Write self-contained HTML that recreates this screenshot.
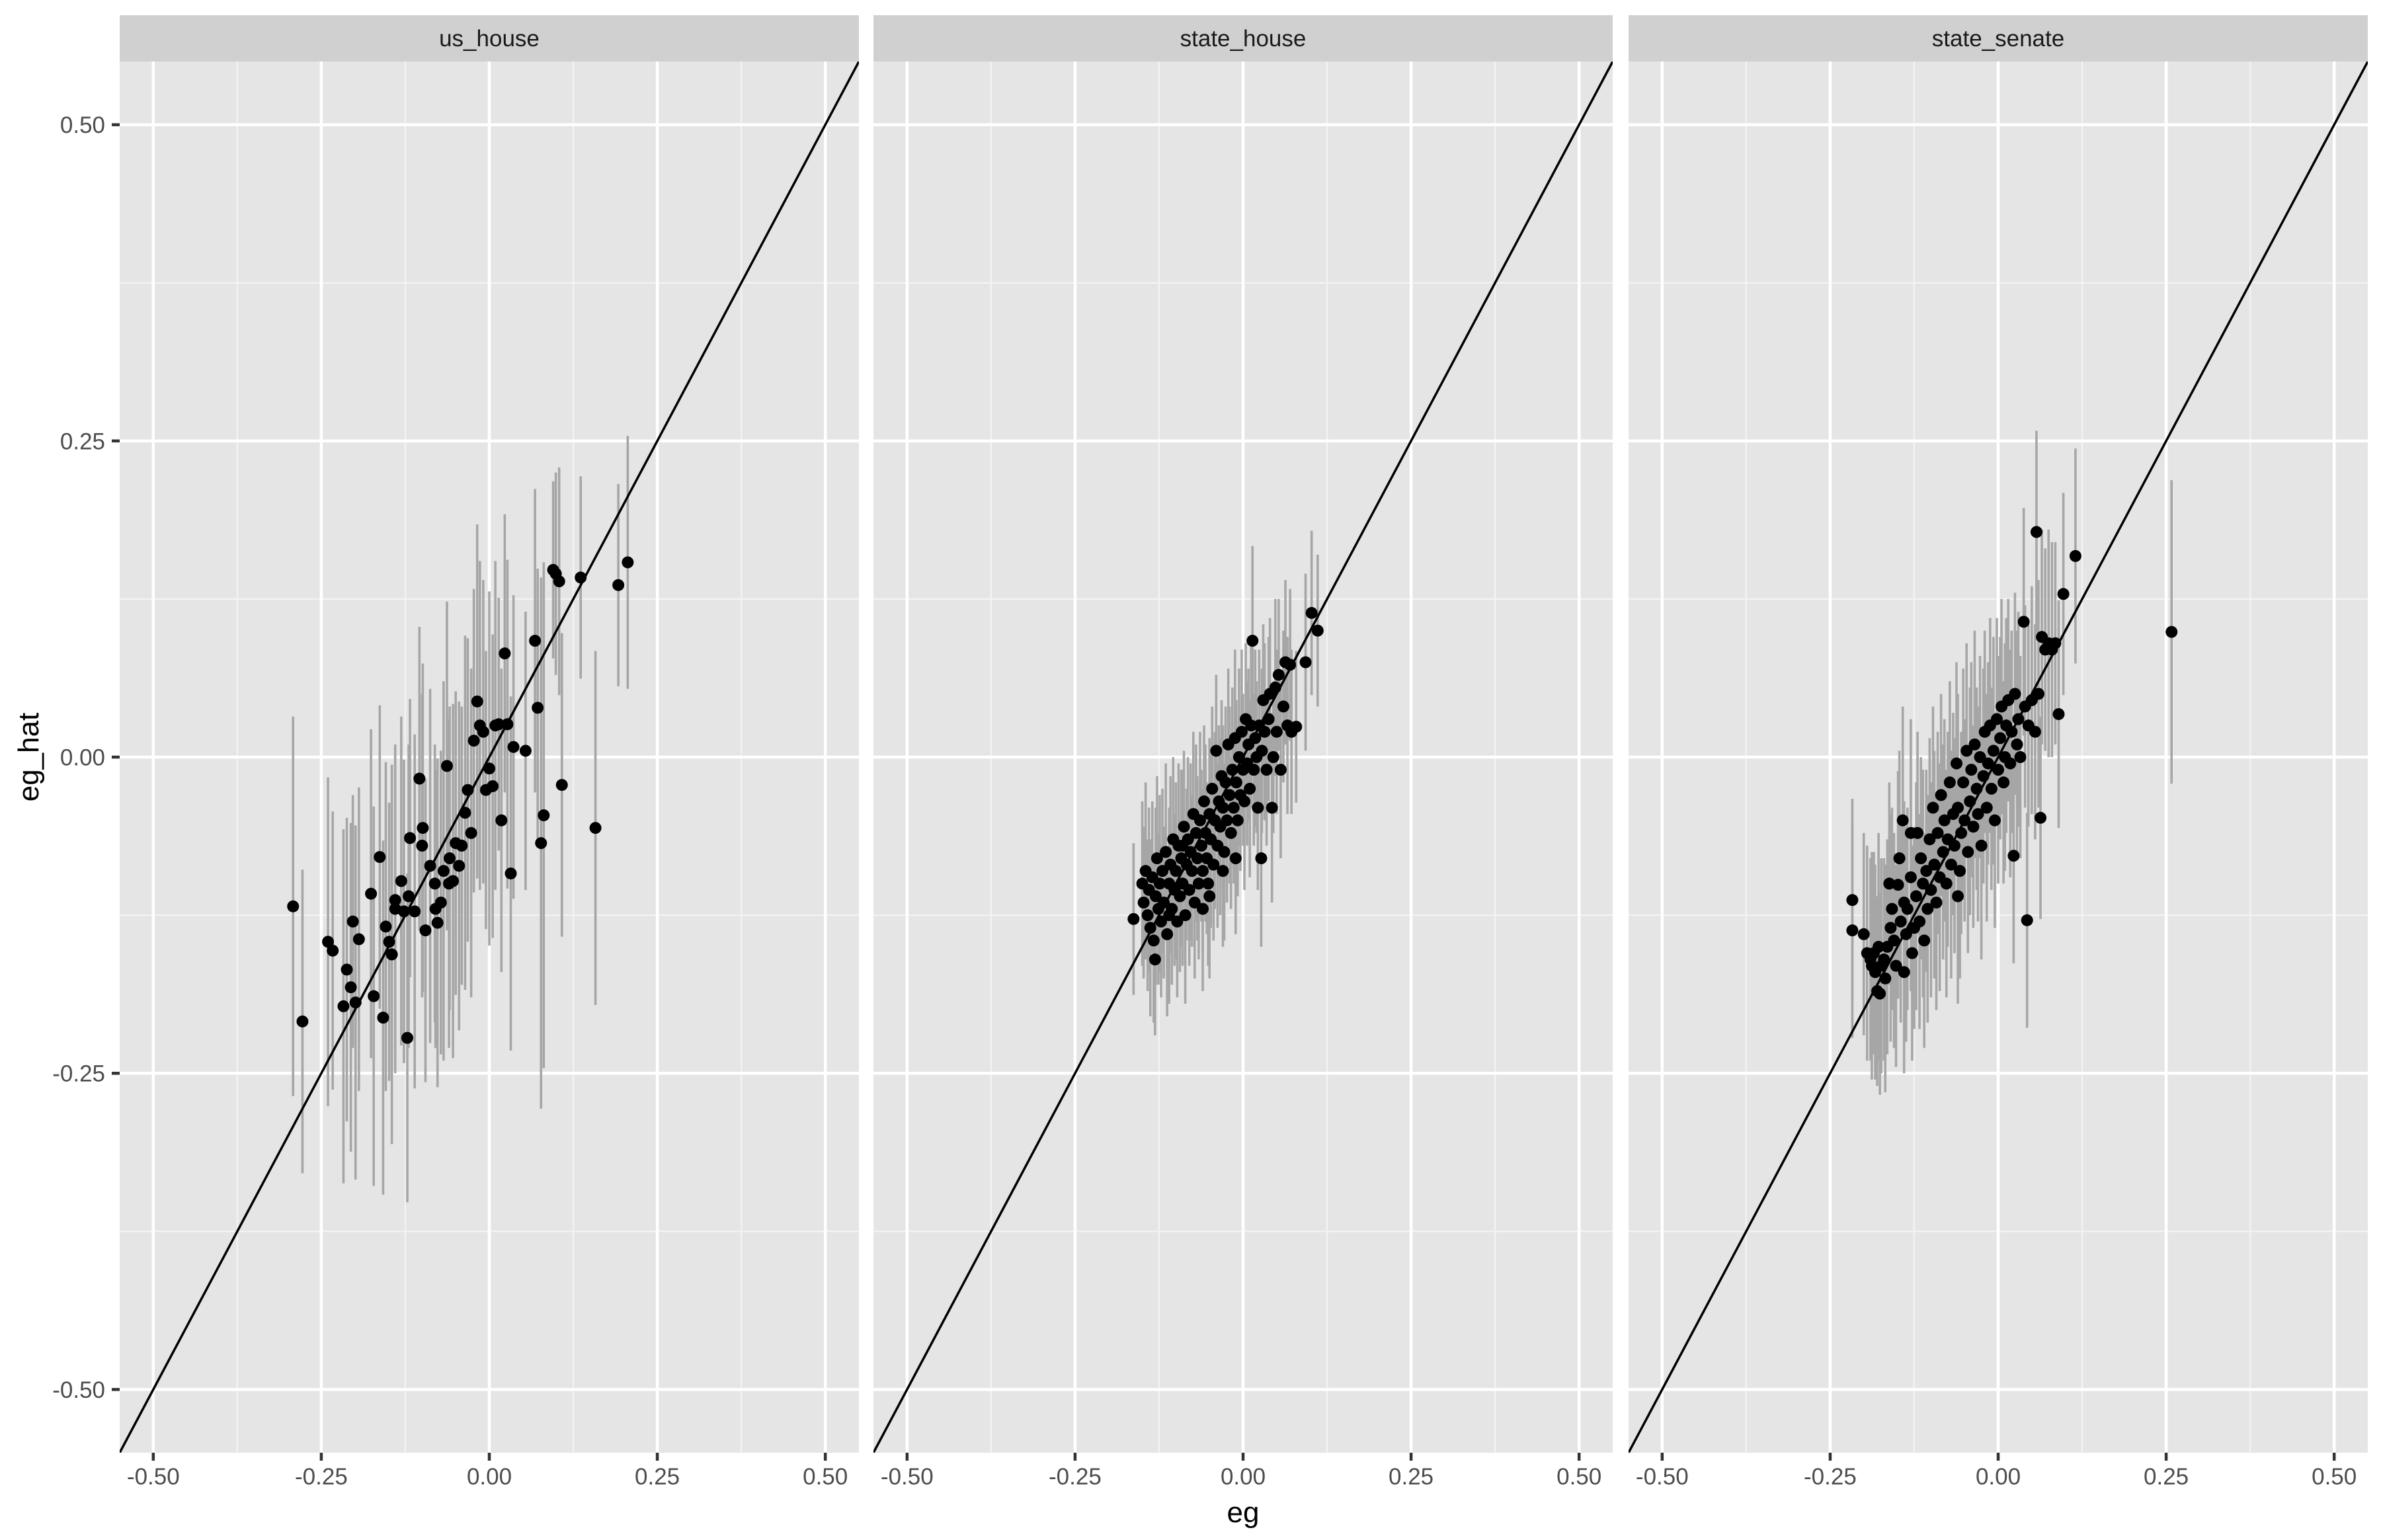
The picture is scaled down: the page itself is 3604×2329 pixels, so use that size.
<!DOCTYPE html>
<html><head><meta charset="utf-8"><style>
html,body{margin:0;padding:0;background:#fff;}
svg{display:block;font-family:"Liberation Sans",Arial,sans-serif;}
</style></head><body>
<svg id="chart" width="3604" height="2329" viewBox="0 0 3604 2329" xmlns="http://www.w3.org/2000/svg">
<rect x="0" y="0" width="3604" height="2329" fill="#ffffff"/>
<text x="1880" y="2302" font-size="44" fill="#000" text-anchor="middle">eg</text>
<text transform="translate(58,1145) rotate(-90)" font-size="44" fill="#000" text-anchor="middle">eg_hat</text>
</svg>
<script>
const panelNames = ["us_house", "state_house", "state_senate"];
const xTicks = [-0.5, -0.25, 0, 0.25, 0.5];
const xTickLabels = ["-0.50", "-0.25", "0.00", "0.25", "0.50"];
const yTicks = [0.5, 0.25, 0, -0.25, -0.5];
const yTickLabels = ["0.50", "0.25", "0.00", "-0.25", "-0.50"];
const minorTicks = [-0.375, -0.125, 0.125, 0.375];

const usX = [-0.292,-0.278,-0.240,-0.233,-0.217,-0.212,-0.206,-0.203,-0.199,-0.194,-0.176,-0.172,-0.163,-0.158,-0.154,-0.149,-0.145,-0.140,-0.131,-0.127,-0.122,-0.118,-0.111,-0.104,-0.099,-0.095,-0.088,-0.081,-0.077,-0.072,-0.068,-0.063,-0.059,-0.054,-0.050,-0.045,-0.041,-0.036,-0.032,-0.027,-0.023,-0.018,-0.014,-0.009,-0.005,0.000,0.005,0.009,0.014,0.018,0.023,0.027,0.032,0.036,0.054,0.068,0.072,0.077,0.081,0.095,0.099,0.104,0.108,0.136,0.158,0.192,0.206,-0.12,-0.14,-0.10,-0.06,-0.08];
const usY = [-0.118,-0.209,-0.146,-0.153,-0.197,-0.168,-0.182,-0.130,-0.194,-0.144,-0.108,-0.189,-0.079,-0.206,-0.134,-0.146,-0.156,-0.113,-0.098,-0.122,-0.222,-0.064,-0.122,-0.017,-0.056,-0.137,-0.086,-0.100,-0.131,-0.115,-0.090,-0.007,-0.080,-0.098,-0.068,-0.086,-0.070,-0.044,-0.026,-0.060,0.013,0.044,0.025,0.020,-0.026,-0.009,-0.023,0.025,0.026,-0.050,0.082,0.026,-0.092,0.008,0.005,0.092,0.039,-0.068,-0.046,0.148,0.145,0.139,-0.022,0.142,-0.056,0.136,0.154,-0.11,-0.12,-0.07,-0.10,-0.12];
const usSE = [0.15,0.12,0.13,0.11,0.14,0.12,0.13,0.10,0.14,0.12,0.13,0.15,0.12,0.14,0.13,0.11,0.15,0.12,0.13,0.12,0.13,0.11,0.14,0.12,0.13,0.12,0.14,0.11,0.13,0.12,0.15,0.13,0.12,0.14,0.12,0.13,0.11,0.14,0.12,0.13,0.12,0.14,0.13,0.12,0.11,0.14,0.12,0.13,0.10,0.12,0.11,0.13,0.14,0.12,0.11,0.12,0.11,0.21,0.20,0.07,0.08,0.09,0.12,0.08,0.14,0.08,0.10,0.12,0.13,0.12,0.13,0.11];

const shX = [-0.163,-0.15,-0.148,-0.145,-0.142,-0.14,-0.138,-0.135,-0.133,-0.131,-0.13,-0.128,-0.126,-0.124,-0.122,-0.12,-0.118,-0.115,-0.113,-0.11,-0.108,-0.106,-0.104,-0.102,-0.1,-0.098,-0.096,-0.094,-0.092,-0.09,-0.088,-0.086,-0.084,-0.082,-0.08,-0.078,-0.076,-0.074,-0.072,-0.07,-0.068,-0.066,-0.064,-0.062,-0.06,-0.058,-0.056,-0.054,-0.052,-0.05,-0.048,-0.046,-0.044,-0.042,-0.04,-0.038,-0.036,-0.034,-0.032,-0.03,-0.028,-0.026,-0.024,-0.022,-0.02,-0.018,-0.016,-0.014,-0.012,-0.01,-0.008,-0.006,-0.004,-0.002,0.0,0.002,0.004,0.006,0.008,0.01,0.012,0.014,0.016,0.018,0.02,0.022,0.024,0.027,0.028,0.03,0.032,0.035,0.038,0.04,0.043,0.045,0.048,0.05,0.053,0.056,0.06,0.063,0.066,0.07,0.072,0.079,0.093,0.102,0.111,-0.011,-0.06,-0.09,-0.11,-0.03,-0.05];
const shY = [-0.128,-0.10,-0.115,-0.09,-0.125,-0.105,-0.135,-0.095,-0.145,-0.16,-0.11,-0.08,-0.12,-0.1,-0.13,-0.09,-0.115,-0.075,-0.14,-0.1,-0.085,-0.12,-0.065,-0.105,-0.09,-0.13,-0.07,-0.11,-0.08,-0.1,-0.055,-0.125,-0.085,-0.065,-0.105,-0.075,-0.09,-0.045,-0.115,-0.06,-0.08,-0.1,-0.05,-0.07,-0.09,-0.035,-0.06,-0.08,-0.1,-0.045,-0.065,-0.025,-0.085,-0.05,0.005,-0.07,-0.035,-0.055,-0.015,-0.04,-0.075,-0.02,-0.05,0.01,-0.03,-0.06,-0.01,-0.04,0.015,-0.02,-0.05,0.0,-0.03,0.02,-0.01,-0.035,0.03,-0.005,0.01,-0.025,0.025,0.092,-0.01,0.015,0.0,-0.04,0.025,-0.08,0.005,0.045,0.02,-0.01,0.03,0.05,-0.04,0.0,0.055,0.02,0.065,-0.01,0.04,0.075,0.025,0.073,0.02,0.024,0.075,0.114,0.1,-0.08,-0.12,-0.07,-0.125,-0.09,-0.11];
const shSE = [0.06,0.065,0.06,0.07,0.06,0.065,0.07,0.06,0.065,0.06,0.07,0.065,0.06,0.07,0.06,0.065,0.06,0.07,0.065,0.06,0.07,0.06,0.065,0.06,0.07,0.06,0.065,0.06,0.07,0.065,0.06,0.07,0.06,0.065,0.06,0.07,0.06,0.065,0.06,0.07,0.065,0.06,0.07,0.06,0.065,0.06,0.07,0.06,0.065,0.06,0.07,0.065,0.06,0.07,0.06,0.065,0.06,0.07,0.06,0.065,0.07,0.06,0.065,0.06,0.07,0.06,0.065,0.06,0.07,0.065,0.06,0.07,0.06,0.065,0.06,0.07,0.06,0.065,0.06,0.07,0.065,0.075,0.06,0.07,0.06,0.065,0.06,0.07,0.065,0.06,0.07,0.06,0.065,0.06,0.075,0.06,0.07,0.065,0.06,0.07,0.06,0.065,0.07,0.06,0.065,0.06,0.07,0.065,0.06,0.06,0.065,0.06,0.07,0.06,0.065];

const ssX = [-0.217,-0.217,-0.19,-0.188,-0.185,-0.183,-0.18,-0.178,-0.176,-0.174,-0.17,-0.168,-0.165,-0.162,-0.16,-0.158,-0.155,-0.152,-0.149,-0.147,-0.145,-0.142,-0.14,-0.137,-0.135,-0.13,-0.128,-0.125,-0.122,-0.12,-0.117,-0.115,-0.112,-0.11,-0.107,-0.105,-0.102,-0.1,-0.097,-0.095,-0.092,-0.09,-0.087,-0.085,-0.082,-0.08,-0.077,-0.075,-0.072,-0.07,-0.067,-0.065,-0.062,-0.06,-0.057,-0.055,-0.052,-0.05,-0.047,-0.045,-0.042,-0.04,-0.037,-0.035,-0.032,-0.03,-0.027,-0.025,-0.022,-0.02,-0.017,-0.015,-0.012,-0.01,-0.007,-0.005,-0.002,0.0,0.003,0.005,0.008,0.01,0.012,0.015,0.018,0.02,0.023,0.025,0.028,0.03,0.033,0.038,0.04,0.043,0.045,0.05,0.055,0.057,0.06,0.063,0.065,0.07,0.075,0.08,0.085,0.09,0.097,0.115,0.258,-0.2,-0.195,-0.14,-0.13,-0.06];
const ssY = [-0.113,-0.137,-0.16,-0.165,-0.155,-0.17,-0.185,-0.15,-0.187,-0.165,-0.16,-0.175,-0.15,-0.1,-0.135,-0.12,-0.145,-0.165,-0.101,-0.08,-0.13,-0.05,-0.115,-0.14,-0.12,-0.095,-0.155,-0.135,-0.11,-0.06,-0.13,-0.08,-0.1,-0.145,-0.09,-0.12,-0.065,-0.105,-0.04,-0.085,-0.115,-0.06,-0.095,-0.03,-0.075,-0.05,-0.1,-0.065,-0.02,-0.085,-0.045,-0.07,-0.005,-0.04,-0.09,-0.06,-0.02,-0.05,0.005,-0.075,-0.035,-0.01,-0.055,0.01,-0.025,-0.045,0.0,-0.07,-0.015,0.02,-0.04,-0.005,0.025,-0.025,0.005,-0.05,0.03,-0.01,0.015,0.04,-0.02,0.0,0.025,0.045,-0.005,0.02,-0.078,0.05,0.01,0.03,0.0,0.107,0.04,-0.129,0.025,0.045,0.02,0.178,0.05,-0.048,0.095,0.085,0.09,0.085,0.09,0.034,0.129,0.159,0.099,-0.14,-0.155,-0.17,-0.06,-0.11];
const ssSE = [0.08,0.085,0.08,0.09,0.08,0.085,0.075,0.09,0.08,0.085,0.08,0.09,0.085,0.08,0.09,0.08,0.085,0.08,0.09,0.085,0.08,0.09,0.08,0.085,0.08,0.09,0.085,0.08,0.09,0.08,0.085,0.08,0.09,0.085,0.08,0.09,0.08,0.085,0.08,0.09,0.085,0.08,0.09,0.08,0.085,0.08,0.09,0.085,0.08,0.09,0.08,0.085,0.08,0.09,0.085,0.08,0.09,0.08,0.085,0.08,0.09,0.085,0.08,0.09,0.08,0.085,0.08,0.09,0.085,0.08,0.09,0.08,0.085,0.08,0.09,0.085,0.08,0.09,0.08,0.085,0.08,0.09,0.085,0.08,0.09,0.08,0.085,0.08,0.09,0.085,0.08,0.09,0.08,0.085,0.08,0.09,0.085,0.08,0.09,0.08,0.085,0.08,0.09,0.085,0.08,0.09,0.08,0.085,0.12,0.08,0.085,0.08,0.09,0.085];

const seriesX = [usX, shX, ssX];
const seriesY = [usY, shY, ssY];
const seriesSE = [usSE, shSE, ssSE];

const NS = "http://www.w3.org/2000/svg";
const svg = document.getElementById("chart");
const PANEL_LEFT = [181, 1321, 2463];
const PANEL_W = 1118, PANEL_TOP = 93, PANEL_BOTTOM = 2197, STRIP_TOP = 23;
const LIM = 0.55;
function mk(tag, attrs, parent) {
  const e = document.createElementNS(NS, tag);
  for (const k in attrs) e.setAttribute(k, attrs[k]);
  (parent || svg).appendChild(e);
  return e;
}
function yScale(v) { return PANEL_TOP + (LIM - v) / (2 * LIM) * (PANEL_BOTTOM - PANEL_TOP); }

const defs = mk("defs", {});
panelNames.forEach((name, p) => {
  const L = PANEL_LEFT[p];
  const xScale = v => L + (v + LIM) / (2 * LIM) * PANEL_W;
  const g = mk("g", {});
  
  
  const cp = mk("clipPath", {id: "clip" + p}, defs);
  mk("rect", {x: L, y: PANEL_TOP, width: PANEL_W, height: PANEL_BOTTOM - PANEL_TOP}, cp);

  const strip = mk("rect", {x: L, y: STRIP_TOP, width: PANEL_W, height: PANEL_TOP - STRIP_TOP, fill: "#d0d0d0"}, g);
  
  
  const st = mk("text", {x: L + PANEL_W / 2, y: 70, "font-size": 35, fill: "#1a1a1a", "text-anchor": "middle"}, g);
  st.textContent = name;
  
  

  const bg = mk("rect", {x: L, y: PANEL_TOP, width: PANEL_W, height: PANEL_BOTTOM - PANEL_TOP, fill: "#e5e5e5"}, g);
  
  

  minorTicks.forEach(t => {
    const a = mk("line", {x1: xScale(t), x2: xScale(t), y1: PANEL_TOP, y2: PANEL_BOTTOM, stroke: "#f3f3f3", "stroke-width": 2.3}, g);
    
    
    const b = mk("line", {x1: L, x2: L + PANEL_W, y1: yScale(t), y2: yScale(t), stroke: "#f3f3f3", "stroke-width": 2.3}, g);
    
    
  });
  xTicks.forEach((t, i) => {
    const a = mk("line", {x1: xScale(t), x2: xScale(t), y1: PANEL_TOP, y2: PANEL_BOTTOM, stroke: "#ffffff", "stroke-width": 4.5}, g);
    
    
    const tk = mk("line", {x1: xScale(t), x2: xScale(t), y1: PANEL_BOTTOM, y2: PANEL_BOTTOM + 12, stroke: "#333", "stroke-width": 4.5}, g);
    
    
    const lb = mk("text", {x: xScale(t), y: 2245, "font-size": 35, fill: "#4d4d4d", "text-anchor": "middle"}, g);
    lb.textContent = xTickLabels[i];
    
    
  });
  yTicks.forEach((t, i) => {
    const a = mk("line", {x1: L, x2: L + PANEL_W, y1: yScale(t), y2: yScale(t), stroke: "#ffffff", "stroke-width": 4.5}, g);
    
    
    if (p === 0) {
      const tk = mk("line", {x1: L - 12, x2: L, y1: yScale(t), y2: yScale(t), stroke: "#333", "stroke-width": 4.5}, g);
      
      
      const lb = mk("text", {x: 159, y: yScale(t) + 12.5, "font-size": 35, fill: "#4d4d4d", "text-anchor": "end"}, g);
      lb.textContent = yTickLabels[i];
      
      
    }
  });

  const data = mk("g", {"clip-path": "url(#clip" + p + ")"}, g);
  const xs = seriesX[p], ys = seriesY[p], se = seriesSE[p];
  xs.forEach((x, i) => {
    const eb = mk("line", {x1: xScale(x), x2: xScale(x), y1: yScale(ys[i] - se[i]), y2: yScale(ys[i] + se[i]), stroke: "#a6a6a6", "stroke-width": 3.6}, data);
    
    
  });
  const diag = mk("line", {x1: xScale(-LIM), y1: yScale(-LIM), x2: xScale(LIM), y2: yScale(LIM), stroke: "#000", "stroke-width": 3.5}, data);
  
  
  xs.forEach((x, i) => {
    const c = mk("circle", {cx: xScale(x), cy: yScale(ys[i]), r: 9, fill: "#000"}, data);
    
    
  });
});
</script>
</body></html>
